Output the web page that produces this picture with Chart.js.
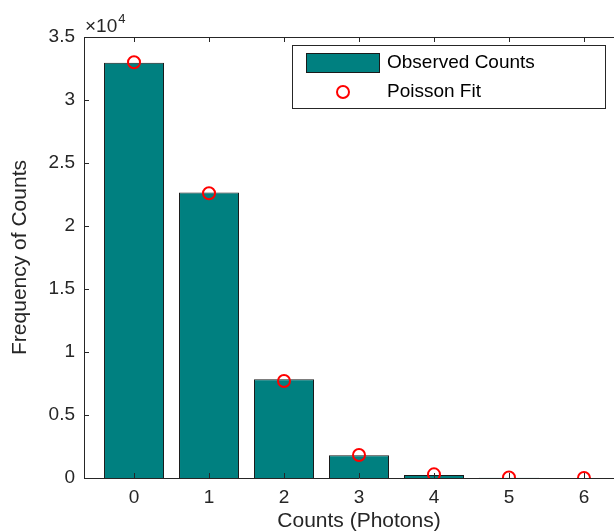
<!DOCTYPE html>
<html>
<head>
<meta charset="utf-8">
<script src="https://cdn.jsdelivr.net/npm/chart.js@4.4.0/dist/chart.umd.min.js"></script>
<style>
  html, body { margin: 0; padding: 0; overflow: hidden; background: #fff; }
</style>
</head>
<body>
<canvas id="chart" width="634" height="532"></canvas>
<script>
const counts = [0, 1, 2, 3, 4, 5, 6];
const observed = [32960, 22650, 7830, 1800, 240, 20, 3];
const poissonFit = [33000, 22600, 7700, 1820, 290, 40, 5];
const yTicks = [0, 5000, 10000, 15000, 20000, 25000, 30000, 35000];

const FONT = "'Liberation Sans', Arial, Helvetica, sans-serif";
const INK = "#262626";

// MATLAB look: inward ticks, top box line, x10^4 exponent, legend inside axes
const matlabAxes = {
  id: "matlabAxes",
  afterDraw(chart) {
    const ctx = chart.ctx;
    const { left, right, top, bottom } = chart.chartArea;
    const xs = chart.scales.x, ys = chart.scales.y;
    ctx.save();
    ctx.strokeStyle = INK;
    ctx.lineWidth = 1;

    ctx.beginPath();
    ctx.moveTo(left, top + 0.5);
    ctx.lineTo(right, top + 0.5);
    ctx.stroke();

    ctx.beginPath();
    yTicks.forEach(v => {
      const py = Math.round(ys.getPixelForValue(v)) + 0.5;
      ctx.moveTo(left, py);
      ctx.lineTo(left + 5, py);
    });
    counts.forEach(c => {
      const px = Math.round(xs.getPixelForValue(c)) + 0.5;
      ctx.moveTo(px, bottom);
      ctx.lineTo(px, bottom - 5);
      ctx.moveTo(px, top);
      ctx.lineTo(px, top + 5);
    });
    ctx.stroke();

    // exponent label
    ctx.fillStyle = INK;
    ctx.textBaseline = "alphabetic";
    ctx.textAlign = "left";
    ctx.font = "19px " + FONT;
    ctx.fillText("\u00d710", left + 1, top - 5);
    const w = ctx.measureText("\u00d710").width;
    ctx.font = "13px " + FONT;
    ctx.fillText("4", left + w + 2, top - 14);

    // legend
    const lx = 292, ly = 45, lw = 313, lh = 63;
    ctx.fillStyle = "#fff";
    ctx.fillRect(lx, ly, lw, lh);
    ctx.strokeStyle = INK;
    ctx.lineWidth = 1;
    ctx.strokeRect(lx + 0.5, ly + 0.5, lw, lh);

    const bar = chart.data.datasets[0], fit = chart.data.datasets[1];
    ctx.fillStyle = bar.backgroundColor;
    ctx.fillRect(306, 53, 74, 20);
    ctx.strokeStyle = bar.borderColor;
    ctx.strokeRect(306.5, 53.5, 73, 19);

    ctx.beginPath();
    ctx.arc(343, 92, 6, 0, Math.PI * 2);
    ctx.strokeStyle = fit.borderColor;
    ctx.lineWidth = 2;
    ctx.stroke();

    ctx.fillStyle = "#000";
    ctx.font = "19px " + FONT;
    ctx.textBaseline = "middle";
    ctx.fillText(bar.label, 387, 63);
    ctx.fillText(fit.label, 387, 92);
    ctx.restore();
  }
};

new Chart(document.getElementById("chart").getContext("2d"), {
  type: "bar",
  data: {
    datasets: [
      {
        label: "Observed Counts",
        data: counts.map((c, i) => ({ x: c, y: observed[i] })),
        backgroundColor: "#008080",
        borderColor: "#1a1a1a",
        borderWidth: 1,
        barPercentage: 0.8,
        categoryPercentage: 1,
        order: 2
      },
      {
        type: "line",
        label: "Poisson Fit",
        data: counts.map((c, i) => ({ x: c, y: poissonFit[i] })),
        showLine: false,
        pointStyle: "circle",
        pointRadius: 6,
        pointBorderWidth: 2,
        borderColor: "#ff0000",
        backgroundColor: "rgba(0,0,0,0)",
        order: 1
      }
    ]
  },
  options: {
    responsive: false,
    animation: false,
    layout: { autoPadding: false, padding: { top: 37, left: 0, right: 0, bottom: 0 } },
    plugins: {
      legend: { display: false },
      tooltip: { enabled: false }
    },
    scales: {
      x: {
        type: "linear",
        offset: false,
        min: -0.667,
        max: 6.667,
        afterBuildTicks: s => { s.ticks = counts.map(v => ({ value: v })); },
        afterFit: s => { s.height = 54; },
        grid: { display: false, drawTicks: false },
        border: { display: true, color: INK, width: 1 },
        ticks: { color: INK, font: { family: FONT, size: 19 }, padding: 8, maxRotation: 0 },
        title: {
          display: true,
          text: "Counts (Photons)",
          color: INK,
          font: { family: FONT, size: 21, lineHeight: 1 },
          padding: { top: 0, bottom: 0 }
        }
      },
      y: {
        min: 0,
        max: 35000,
        afterBuildTicks: s => { s.ticks = yTicks.map(v => ({ value: v })); },
        afterFit: s => { s.width = 84; },
        grid: { display: false, drawTicks: false },
        border: { display: true, color: INK, width: 1 },
        ticks: {
          color: INK,
          font: { family: FONT, size: 19 },
          padding: 9,
          callback: v => String(v / 10000)
        },
        title: {
          display: true,
          text: "Frequency of Counts",
          color: INK,
          font: { family: FONT, size: 21, lineHeight: 1 },
          padding: { top: 10, bottom: 0 }
        }
      }
    }
  },
  plugins: [matlabAxes]
});
</script>
</body>
</html>
